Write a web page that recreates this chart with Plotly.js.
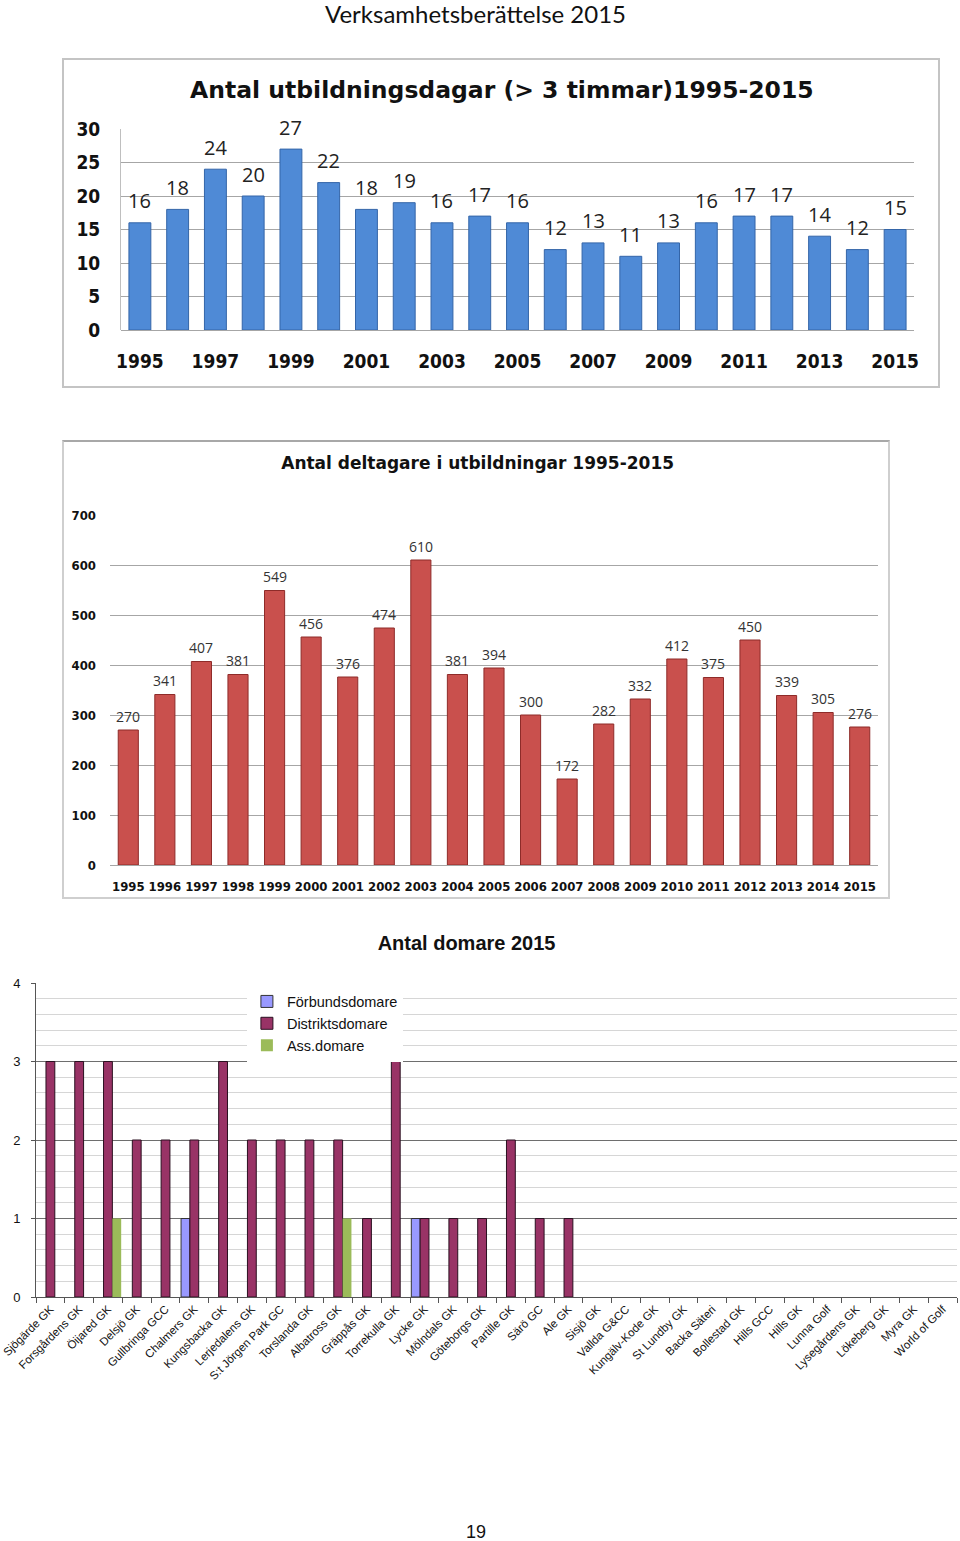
<!DOCTYPE html>
<html>
<head>
<meta charset="utf-8">
<script src="https://cdn.plot.ly/plotly-3.0.1.min.js"></script>
<style>
  html, body { margin: 0; padding: 0; background: #fff; }
  body { width: 960px; height: 1541px; position: relative; overflow: hidden; }
  #header { position: absolute; left: 0; width: 951px; top: 0px; text-align: center;
            font-family: Lato, "DejaVu Sans", sans-serif; font-size: 24px; line-height: 27px; color: #111; }
  #footer { position: absolute; left: 0; width: 952px; top: 1522px; text-align: center;
            font-family: "Liberation Sans", Arial, sans-serif; font-size: 18px; color: #111; }
  #c1 { position: absolute; left: 62px; top: 58px; width: 874px; height: 326px;
        border: 2px solid #c4c4c4; }
  #c2 { position: absolute; left: 62px; top: 440px; width: 824px; height: 455px;
        border: 2px solid #cfcfcf; border-top-color: #a8a8a8; }
  #c3 { position: absolute; left: 0px; top: 920px; width: 960px; height: 480px; }
</style>
</head>
<body>
<div id="header">Verksamhetsberättelse 2015</div>
<div id="c1"></div>
<div id="c2"></div>
<div id="c3"></div>
<div id="footer">19</div>
<script>
// ---------- Data ----------
const years = [1995, 1996, 1997, 1998, 1999, 2000, 2001, 2002, 2003, 2004, 2005,
               2006, 2007, 2008, 2009, 2010, 2011, 2012, 2013, 2014, 2015];
const trainingDays = [16, 18, 24, 20, 27, 22, 18, 19, 16, 17, 16,
                      12, 13, 11, 13, 16, 17, 17, 14, 12, 15];
const participants = [270, 341, 407, 381, 549, 456, 376, 474, 610, 381, 394,
                      300, 172, 282, 332, 412, 375, 450, 339, 305, 276];

const clubs = ["Sjögärde GK", "Forsgårdens GK", "Öijared GK", "Delsjö GK", "Gullbringa GCC",
  "Chalmers GK", "Kungsbacka GK", "Lerjedalens GK", "S:t Jörgen Park GC", "Torslanda GK",
  "Albatross GK", "Gräppås GK", "Torrekulla GK", "Lycke GK", "Mölndals GK", "Göteborgs GK",
  "Partille GK", "Särö GC", "Ale GK", "Sisjö GK", "Vallda G&CC", "Kungälv-Kode GK",
  "St Lundby GK", "Backa Säteri", "Bollestad GK", "Hills GCC", "Hills GK", "Lunna Golf",
  "Lysegårdens GK", "Lökeberg GK", "Myra GK", "World of Golf"];
const forbundsdomare = [0,0,0,0,0,1,0,0,0,0,0,0,0,1,0,0,0,0,0,0,0,0,0,0,0,0,0,0,0,0,0,0];
const distriktsdomare = [3,3,3,2,2,2,3,2,2,2,2,1,3,1,1,1,2,1,1,0,0,0,0,0,0,0,0,0,0,0,0,0];
const assdomare = [0,0,1,0,0,0,0,0,0,0,1,0,0,0,0,0,0,0,0,0,0,0,0,0,0,0,0,0,0,0,0,0];

const cfg = {staticPlot: true, displayModeBar: false};
const boldFont = '"DejaVu Sans Condensed", "DejaVu Sans", sans-serif';
const labelFont = '"Open Sans", "Liberation Sans", sans-serif';
const noZero = arr => arr.map(v => (v === 0 ? null : v));

// ---------- Chart 1 ----------
Plotly.newPlot('c1', [{
  type: 'bar', x: years, y: trainingDays,
  marker: {color: '#4f8ad6', line: {color: '#3465a8', width: 1}},
  hoverinfo: 'none'
}], {
  width: 874, height: 326,
  margin: {l: 57, r: 24, t: 69, b: 56},
  paper_bgcolor: '#fff', plot_bgcolor: '#fff',
  bargap: 0.42, showlegend: false,
  title: {text: 'Antal utbildningsdagar (> 3 timmar)1995-2015',
          font: {family: '"DejaVu Sans", sans-serif', size: 23.5, weight: 'bold', color: '#111'},
          x: 0.501, xanchor: 'center', y: 0.908, yanchor: 'middle', xref: 'container', yref: 'container'},
  xaxis: {range: [1994.5, 2015.5], tick0: 1995, dtick: 2, showgrid: false, zeroline: false,
          showline: false, ticks: '', ticklabelstandoff: 18,
          tickfont: {family: boldFont, size: 19, weight: 'bold', color: '#111'}},
  yaxis: {range: [0, 30], dtick: 5, showgrid: true, gridcolor: '#a6a6a6', gridwidth: 1,
          zeroline: true, zerolinecolor: '#a6a6a6', showline: true, linecolor: '#bfbfbf',
          ticks: '', ticklabelstandoff: 16,
          tickfont: {family: boldFont, size: 19, weight: 'bold', color: '#111'}},
  annotations: years.map((yr, i) => ({
    x: yr, y: trainingDays[i], xref: 'x', yref: 'y', text: String(trainingDays[i]),
    showarrow: false, yshift: 22, yanchor: 'middle',
    font: {family: labelFont, size: 20, color: '#222'}
  }))
}, cfg);

// ---------- Chart 2 ----------
Plotly.newPlot('c2', [{
  type: 'bar', x: years, y: participants,
  marker: {color: '#c9504d', line: {color: '#8e2b29', width: 1}},
  hoverinfo: 'none'
}], {
  width: 824, height: 455,
  margin: {l: 46, r: 10, t: 73, b: 32},
  paper_bgcolor: '#fff', plot_bgcolor: '#fff',
  bargap: 0.45, showlegend: false,
  title: {text: 'Antal deltagare i utbildningar 1995-2015',
          font: {family: '"DejaVu Sans", sans-serif', size: 17, weight: 'bold', color: '#111'},
          x: 0.502, xanchor: 'center', y: 0.954, yanchor: 'middle', xref: 'container', yref: 'container'},
  xaxis: {range: [1994.5, 2015.5], tick0: 1995, dtick: 1, showgrid: false, zeroline: false,
          showline: false, ticks: '', ticklabelstandoff: 12,
          tickfont: {family: boldFont, size: 13, weight: 'bold', color: '#111'}},
  yaxis: {range: [0, 700], dtick: 100, showgrid: true, gridcolor: '#a6a6a6', gridwidth: 1,
          zeroline: true, zerolinecolor: '#a6a6a6', showline: false, ticks: '',
          ticklabelstandoff: 13,
          tickfont: {family: boldFont, size: 13, weight: 'bold', color: '#111'}},
  annotations: years.map((yr, i) => ({
    x: yr, y: participants[i], xref: 'x', yref: 'y', text: String(participants[i]),
    showarrow: false, yshift: 14, yanchor: 'middle',
    font: {family: labelFont, size: 14, color: '#333'}
  }))
}, cfg);

// ---------- Chart 3 ----------
const arial = '"Liberation Sans", Arial, sans-serif';
Plotly.newPlot('c3', [
  {type: 'bar', name: 'Förbundsdomare', x: clubs, y: noZero(forbundsdomare),
   marker: {color: '#9999ff', line: {color: '#333', width: 1}}, hoverinfo: 'none'},
  {type: 'bar', name: 'Distriktsdomare', x: clubs, y: noZero(distriktsdomare),
   marker: {color: '#993366', line: {color: '#2a1020', width: 1}}, hoverinfo: 'none'},
  {type: 'bar', name: 'Ass.domare', x: clubs, y: noZero(assdomare),
   marker: {color: '#9bbb59', line: {color: '#9bbb59', width: 0}}, hoverinfo: 'none'}
], {
  width: 960, height: 480,
  margin: {l: 36, r: 3, t: 63, b: 103},
  paper_bgcolor: '#fff', plot_bgcolor: '#fff',
  barmode: 'group', bargap: 0.08, bargroupgap: 0,
  title: {text: 'Antal domare 2015',
          font: {family: arial, size: 20, weight: 'bold', color: '#111'},
          x: 0.486, xanchor: 'center', y: 0.952, yanchor: 'middle', xref: 'container', yref: 'container'},
  showlegend: true,
  legend: {x: 0.229, y: 0.992, xanchor: 'left', yanchor: 'top', bgcolor: '#fff',
           borderwidth: 0, traceorder: 'normal', itemwidth: 30, tracegroupgap: 0,
           font: {family: arial, size: 14.5, color: '#111'}},
  xaxis: {type: 'category', showgrid: false, zeroline: false, showline: true, linecolor: '#555',
          linewidth: 1, ticks: 'outside', tickson: 'boundaries', ticklen: 5, tickcolor: '#555',
          tickangle: -45, tickfont: {family: arial, size: 11.5, color: '#111'}},
  yaxis: {range: [0, 4], dtick: 1, showgrid: true, gridcolor: '#6e6e6e', gridwidth: 1,
          zeroline: false, showline: true, linecolor: '#555', ticks: 'outside', ticklen: 4,
          tickcolor: '#555', ticklabelstandoff: 8,
          minor: {dtick: 0.2, showgrid: true, gridcolor: '#d6d6d6', ticks: ''},
          tickfont: {family: arial, size: 13, color: '#111'}}
}, cfg);
</script>
</body>
</html>
